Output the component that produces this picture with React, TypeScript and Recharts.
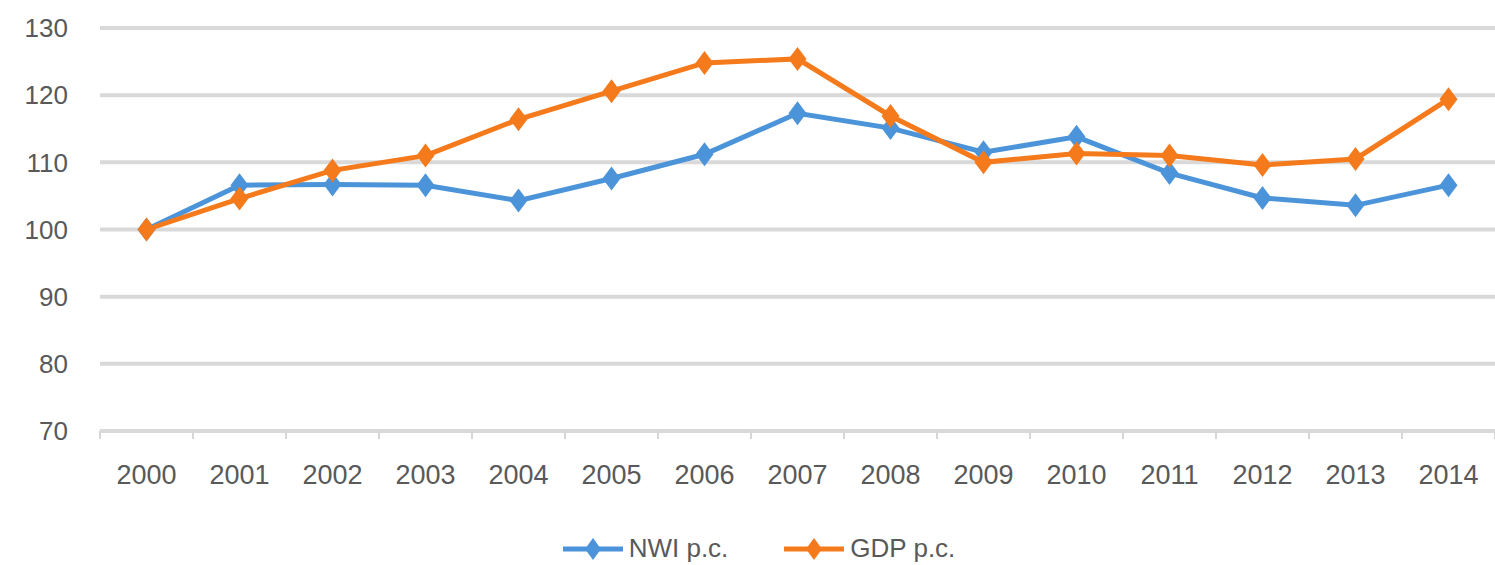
import { LineChart, Line, XAxis, YAxis, CartesianGrid, Legend } from "recharts";

const years = ["2000", "2001", "2002", "2003", "2004", "2005", "2006", "2007", "2008", "2009", "2010", "2011", "2012", "2013", "2014"];
const nwi = [100, 106.6, 106.7, 106.6, 104.3, 107.6, 111.2, 117.3, 115.1, 111.5, 113.8, 108.4, 104.7, 103.6, 106.6];
const gdp = [100, 104.6, 108.8, 111.0, 116.4, 120.6, 124.8, 125.4, 116.9, 110.0, 111.3, 111.0, 109.6, 110.5, 119.4];
const yTicks = [70, 80, 90, 100, 110, 120, 130];

const data = years.map((year, i) => ({ year, nwi: nwi[i], gdp: gdp[i] }));

const BLUE = "#4C94D9";
const ORANGE = "#F47A1C";
const FONT = "'Liberation Sans', Arial, sans-serif";
const WIDTH = 1495;
const LEFT = 100;
const band = (WIDTH - LEFT) / years.length;

function Marker(props: any) {
  const { cx, cy, fill } = props;
  if (cx == null || cy == null) return null;
  return <path d={`M${cx},${cy - 12} L${cx + 9},${cy} L${cx},${cy + 12} L${cx - 9},${cy} Z`} fill={fill} />;
}

function XTick(props: any) {
  const { x, y, payload, index } = props;
  return (
    <g>
      <line x1={x - band / 2} x2={x - band / 2} y1={y} y2={y + 8} stroke="#D6D6D6" strokeWidth={2} />
      {index === years.length - 1 && (
        <line x1={x + band / 2} x2={x + band / 2} y1={y} y2={y + 8} stroke="#D6D6D6" strokeWidth={2} />
      )}
      <text x={x} y={y + 53} textAnchor="middle" fill="#595959" fontSize={27} fontFamily={FONT}>
        {payload.value}
      </text>
    </g>
  );
}

function LegendBox() {
  const items = [
    { label: "NWI p.c.", color: BLUE },
    { label: "GDP p.c.", color: ORANGE },
  ];
  return (
    <div style={{ display: "flex", justifyContent: "center", gap: 56, paddingTop: 28, paddingLeft: 23 }}>
      {items.map((it) => (
        <div key={it.label} style={{ display: "flex", alignItems: "center", gap: 6 }}>
          <svg width={60} height={24}>
            <line x1={0} x2={60} y1={12} y2={12} stroke={it.color} strokeWidth={5} />
            <path d="M30,1 L38,12 L30,23 L22,12 Z" fill={it.color} />
          </svg>
          <span style={{ fontFamily: FONT, fontSize: 26, color: "#595959" }}>{it.label}</span>
        </div>
      ))}
    </div>
  );
}

export default function App() {
  return (
    <div style={{ position: "absolute", left: 0, top: 0, background: "#fff" }}>
      <LineChart width={WIDTH} height={565} data={data} margin={{ top: 28, right: 0, left: 0, bottom: 0 }}>
        <CartesianGrid vertical={false} stroke="#D9D9D9" strokeWidth={4} />
        <XAxis
          dataKey="year"
          axisLine={false}
          tickLine={false}
          tickSize={0}
          tickMargin={0}
          height={74}
          interval={0}
          padding={{ left: band / 2, right: band / 2 }}
          tick={<XTick />}
        />
        <YAxis
          domain={[70, 130]}
          ticks={yTicks}
          width={LEFT}
          axisLine={false}
          tickLine={false}
          tickSize={0}
          tickMargin={32}
          tick={{ fill: "#595959", fontSize: 26, fontFamily: FONT }}
        />
        <Legend verticalAlign="bottom" height={60} content={() => <LegendBox />} />
        <Line dataKey="nwi" name="NWI p.c." stroke={BLUE} strokeWidth={5} dot={<Marker fill={BLUE} />} activeDot={false} isAnimationActive={false} />
        <Line dataKey="gdp" name="GDP p.c." stroke={ORANGE} strokeWidth={5} dot={<Marker fill={ORANGE} />} activeDot={false} isAnimationActive={false} />
      </LineChart>
    </div>
  );
}
